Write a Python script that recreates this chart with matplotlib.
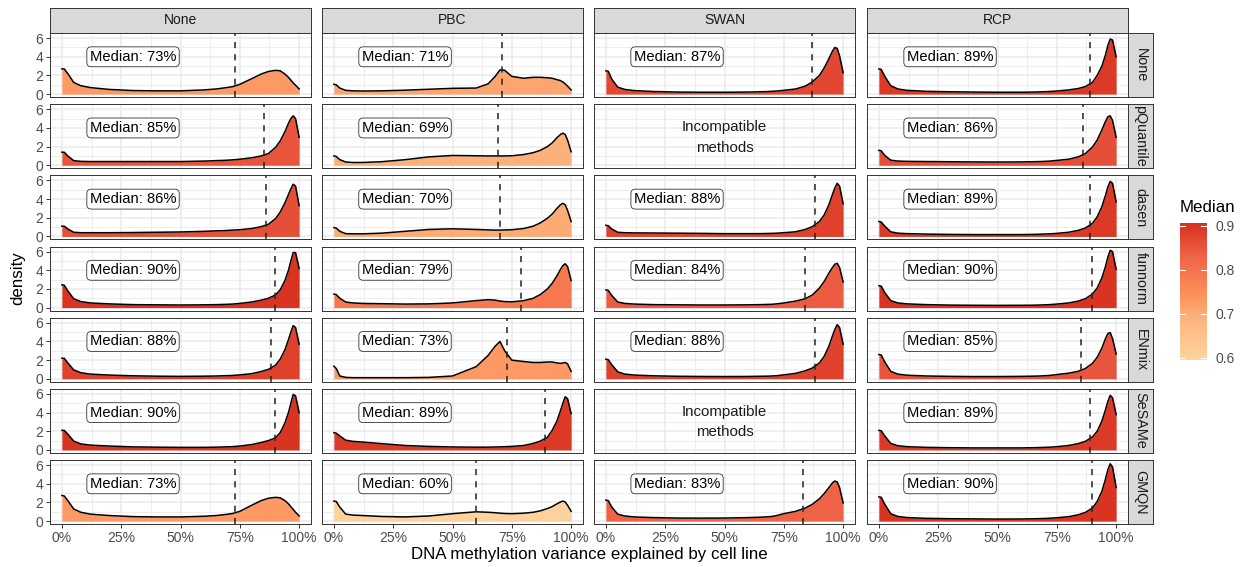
import numpy as np
import matplotlib.pyplot as plt
from matplotlib.colors import LinearSegmentedColormap, Normalize
from matplotlib.cm import ScalarMappable

plt.rcParams['font.family'] = ['Liberation Sans', 'DejaVu Sans']

methods = ['None', 'PBC', 'SWAN', 'RCP']
norm_methods = ['None', 'pQuantile', 'dasen', 'funnorm', 'ENmix', 'SeSAMe', 'GMQN']

x_grid = [0, 0.01, 0.025, 0.05, 0.08, 0.12, 0.2, 0.3, 0.4, 0.5, 0.6, 0.65, 0.68, 0.7,
          0.72, 0.75, 0.8, 0.84, 0.87, 0.9, 0.92, 0.94, 0.955, 0.965, 0.975, 0.985, 1.0]

dens_none = [
    [2.7, 2.7, 2.2, 1.25, 0.9, 0.7, 0.5, 0.38, 0.35, 0.35, 0.45, 0.55, 0.65, 0.72, 0.8, 1.05, 1.65, 2.15, 2.42, 2.55, 2.5, 2.15, 1.8, 1.5, 1.2, 0.95, 0.55],
    [1.4, 1.4, 1.0, 0.5, 0.42, 0.4, 0.4, 0.4, 0.4, 0.4, 0.45, 0.5, 0.52, 0.55, 0.58, 0.65, 0.8, 1.0, 1.25, 1.9, 2.6, 3.6, 4.5, 5.0, 5.3, 5.0, 3.0],
    [1.1, 1.1, 0.8, 0.45, 0.4, 0.4, 0.4, 0.42, 0.45, 0.48, 0.55, 0.6, 0.62, 0.65, 0.68, 0.72, 0.85, 1.05, 1.3, 1.9, 2.6, 3.6, 4.5, 5.1, 5.6, 5.4, 3.3],
    [2.45, 2.4, 1.8, 0.95, 0.65, 0.5, 0.4, 0.32, 0.3, 0.28, 0.3, 0.32, 0.34, 0.36, 0.38, 0.45, 0.6, 0.8, 1.0, 1.35, 1.9, 2.9, 4.0, 5.0, 5.9, 5.9, 4.2],
    [2.2, 2.2, 1.7, 0.95, 0.65, 0.5, 0.4, 0.32, 0.28, 0.26, 0.28, 0.3, 0.32, 0.34, 0.36, 0.42, 0.55, 0.78, 1.0, 1.45, 2.1, 3.1, 4.2, 5.0, 5.7, 5.5, 3.7],
    [2.1, 2.1, 1.7, 0.95, 0.65, 0.52, 0.42, 0.33, 0.3, 0.28, 0.28, 0.3, 0.32, 0.34, 0.36, 0.42, 0.58, 0.8, 1.0, 1.3, 1.85, 2.9, 4.0, 5.0, 5.95, 5.8, 4.0],
    [2.75, 2.7, 2.2, 1.3, 0.95, 0.75, 0.6, 0.48, 0.45, 0.45, 0.52, 0.6, 0.68, 0.75, 0.82, 1.05, 1.7, 2.2, 2.45, 2.55, 2.5, 2.2, 1.85, 1.55, 1.25, 0.95, 0.55],
]
dens_pbc = [
    [1.05, 1.0, 0.65, 0.4, 0.35, 0.33, 0.35, 0.42, 0.52, 0.62, 0.65, 1.1, 1.9, 2.6, 2.55, 1.9, 1.7, 1.8, 1.8, 1.75, 1.7, 1.55, 1.45, 1.3, 1.1, 0.85, 0.45],
    [1.0, 0.95, 0.6, 0.35, 0.3, 0.3, 0.38, 0.6, 0.9, 1.05, 1.02, 1.0, 1.0, 1.0, 1.0, 1.02, 1.15, 1.35, 1.6, 2.0, 2.4, 2.95, 3.3, 3.45, 3.3, 2.7, 1.45],
    [0.95, 0.9, 0.55, 0.3, 0.28, 0.28, 0.35, 0.55, 0.75, 0.82, 0.75, 0.7, 0.68, 0.68, 0.7, 0.72, 0.85, 1.1, 1.45, 1.95, 2.4, 3.0, 3.4, 3.55, 3.4, 2.8, 1.6],
    [1.45, 1.4, 1.0, 0.6, 0.5, 0.45, 0.42, 0.38, 0.4, 0.5, 0.75, 0.85, 0.8, 0.7, 0.65, 0.62, 0.75, 1.0, 1.4, 2.0, 2.6, 3.4, 4.1, 4.5, 4.7, 4.4, 2.9],
    [1.35, 1.1, 0.3, 0.15, 0.12, 0.12, 0.12, 0.12, 0.15, 0.3, 1.3, 2.5, 3.5, 4.0, 3.0, 2.0, 1.85, 1.75, 1.75, 1.8, 1.8, 1.7, 1.65, 1.7, 1.75, 1.6, 0.8],
    [1.85, 1.8, 1.5, 1.05, 0.92, 0.85, 0.68, 0.48, 0.38, 0.32, 0.3, 0.3, 0.32, 0.33, 0.35, 0.38, 0.48, 0.7, 0.95, 1.35, 2.1, 3.1, 4.2, 5.0, 5.7, 5.5, 3.9],
    [2.15, 2.1, 1.5, 0.75, 0.65, 0.6, 0.5, 0.45, 0.55, 0.8, 1.0, 0.95, 0.9, 0.85, 0.82, 0.8, 0.85, 0.95, 1.1, 1.35, 1.55, 1.85, 2.05, 2.15, 2.05, 1.7, 1.05],
]
dens_swan = [
    [2.5, 2.45, 1.6, 0.75, 0.5, 0.38, 0.28, 0.22, 0.2, 0.2, 0.22, 0.25, 0.27, 0.3, 0.33, 0.4, 0.55, 0.85, 1.3, 2.0, 2.8, 3.8, 4.6, 5.0, 4.9, 4.1, 2.3],
    None,
    [1.2, 1.15, 0.8, 0.45, 0.4, 0.38, 0.37, 0.35, 0.33, 0.3, 0.3, 0.3, 0.32, 0.33, 0.35, 0.4, 0.5, 0.75, 1.05, 1.6, 2.3, 3.4, 4.5, 5.2, 5.7, 5.4, 3.5],
    [1.9, 1.85, 1.3, 0.6, 0.45, 0.38, 0.32, 0.3, 0.28, 0.28, 0.3, 0.32, 0.34, 0.36, 0.4, 0.5, 0.7, 0.95, 1.35, 2.1, 2.8, 3.7, 4.3, 4.65, 4.75, 4.3, 2.75],
    [2.1, 2.05, 1.5, 0.75, 0.5, 0.4, 0.32, 0.27, 0.25, 0.24, 0.25, 0.27, 0.28, 0.3, 0.33, 0.42, 0.58, 0.85, 1.15, 1.7, 2.4, 3.5, 4.6, 5.3, 5.8, 5.5, 3.7],
    None,
    [2.25, 2.2, 1.5, 0.75, 0.55, 0.45, 0.38, 0.33, 0.32, 0.33, 0.38, 0.42, 0.46, 0.5, 0.6, 0.8, 1.05, 1.4, 1.8, 2.4, 2.95, 3.6, 4.1, 4.3, 4.2, 3.6, 1.95],
]
dens_rcp = [
    [2.7, 2.65, 1.9, 0.9, 0.55, 0.4, 0.3, 0.25, 0.22, 0.2, 0.2, 0.22, 0.24, 0.26, 0.28, 0.33, 0.45, 0.6, 0.8, 1.25, 2.0, 3.0, 4.2, 5.2, 5.9, 5.8, 4.0],
    [1.6, 1.55, 1.05, 0.55, 0.45, 0.42, 0.4, 0.38, 0.36, 0.35, 0.36, 0.38, 0.4, 0.42, 0.45, 0.52, 0.65, 0.9, 1.25, 1.95, 2.7, 3.8, 4.7, 5.2, 5.3, 4.8, 3.0],
    [1.6, 1.55, 1.1, 0.5, 0.35, 0.3, 0.25, 0.22, 0.2, 0.2, 0.2, 0.22, 0.24, 0.26, 0.28, 0.33, 0.45, 0.65, 0.9, 1.4, 2.1, 3.2, 4.4, 5.3, 5.9, 5.7, 3.7],
    [2.35, 2.3, 1.6, 0.75, 0.5, 0.4, 0.32, 0.27, 0.25, 0.24, 0.25, 0.26, 0.28, 0.3, 0.32, 0.38, 0.5, 0.7, 0.95, 1.45, 2.1, 3.2, 4.4, 5.4, 6.15, 6.0, 4.1],
    [2.6, 2.55, 1.8, 0.8, 0.5, 0.38, 0.3, 0.26, 0.24, 0.24, 0.26, 0.28, 0.3, 0.33, 0.36, 0.45, 0.6, 0.8, 1.1, 1.65, 2.3, 3.3, 4.3, 4.85, 4.95, 4.3, 2.65],
    [2.1, 2.05, 1.5, 0.7, 0.45, 0.35, 0.28, 0.24, 0.22, 0.22, 0.22, 0.24, 0.26, 0.28, 0.3, 0.35, 0.48, 0.68, 0.92, 1.4, 2.0, 3.1, 4.3, 5.2, 5.85, 5.6, 3.8],
    [2.6, 2.55, 1.8, 0.8, 0.5, 0.38, 0.3, 0.26, 0.24, 0.22, 0.23, 0.25, 0.27, 0.29, 0.31, 0.36, 0.48, 0.68, 0.93, 1.4, 2.1, 3.2, 4.5, 5.5, 6.15, 5.8, 3.6],
]

med_none = [0.73, 0.85, 0.86, 0.90, 0.88, 0.90, 0.73]
med_pbc = [0.71, 0.69, 0.70, 0.79, 0.73, 0.89, 0.60]
med_swan = [0.87, None, 0.88, 0.84, 0.88, None, 0.83]
med_rcp = [0.89, 0.86, 0.89, 0.90, 0.85, 0.89, 0.90]

all_dens = [dens_none, dens_pbc, dens_swan, dens_rcp]
all_med = [med_none, med_pbc, med_swan, med_rcp]

cmap = LinearSegmentedColormap.from_list(
    'orrd', ['#fdd49e', '#fdbb84', '#fc8d59', '#ef6548', '#d7301f'])
cnorm = Normalize(0.595, 0.905)

W, H = 1241, 567
fig = plt.figure(figsize=(W / 100, H / 100), dpi=100)


def box(left, top, w, h):
    return [left / W, 1 - (top + h) / H, w / W, h / H]


col_left = [50, 322, 594, 867]
pw = 261
ph = 64
row_top = [33 + i * 71.17 for i in range(7)]
grey20 = '#333333'
tick_col = '#4D4D4D'

for c, method in enumerate(methods):
    # top strip
    sax = fig.add_axes(box(col_left[c], 8, pw, 25))
    sax.set_facecolor('#D9D9D9')
    sax.set_xticks([])
    sax.set_yticks([])
    for s in sax.spines.values():
        s.set_color(grey20)
        s.set_linewidth(0.7)
    sax.text(0.5, 0.5, method, ha='center', va='center', fontsize=10,
             color='#1A1A1A', transform=sax.transAxes)

    for r, nm in enumerate(norm_methods):
        ax = fig.add_axes(box(col_left[c], row_top[r], pw, ph))
        ax.set_xlim(-0.05, 1.05)
        ax.set_ylim(-0.31, 6.55)
        ax.set_xticks([0, 0.25, 0.5, 0.75, 1.0])
        ax.set_xticks([0.125, 0.375, 0.625, 0.875], minor=True)
        ax.set_yticks([0, 2, 4, 6])
        ax.set_yticks([1, 3, 5], minor=True)
        ax.grid(which='major', color='#EBEBEB', lw=1.1, zorder=0)
        ax.grid(which='minor', color='#EBEBEB', lw=0.6, zorder=0)
        ax.set_axisbelow(True)
        for s in ax.spines.values():
            s.set_color(grey20)
            s.set_linewidth(0.7)
        ax.tick_params(which='minor', length=0)
        ax.tick_params(which='major', length=3, width=0.7, color=grey20,
                       labelsize=10, labelcolor=tick_col, pad=2)
        if c == 0:
            ax.set_yticklabels(['0', '2', '4', '6'])
        else:
            ax.tick_params(axis='y', length=0, labelleft=False)
        if r == 6:
            ax.set_xticklabels(['0%', '25%', '50%', '75%', '100%'])
        else:
            ax.tick_params(axis='x', length=0, labelbottom=False)

        dens = all_dens[c][r]
        med = all_med[c][r]
        if dens is None:
            ax.text(0.5, 3.0, 'Incompatible\nmethods', ha='center', va='center',
                    fontsize=10.8, linespacing=1.6, color='#1A1A1A')
        else:
            ax.fill_between(x_grid, 0, dens, color=cmap(cnorm(med)), lw=0, zorder=2)
            ax.plot(x_grid, dens, color='black', lw=1.1, zorder=3)
            ax.axvline(med, color='#222222', lw=1.1, ls=(0, (4, 4)), zorder=4)
            ax.text(0.3, 4.0, f'Median: {round(med * 100)}%', ha='center', va='center',
                    fontsize=10.6, color='black', zorder=5,
                    bbox=dict(boxstyle='round,pad=0.2,rounding_size=0.3', fc='white',
                              ec=grey20, lw=0.6))

        if c == 3:
            rax = fig.add_axes(box(1128, row_top[r], 25, ph))
            rax.set_facecolor('#D9D9D9')
            rax.set_xticks([])
            rax.set_yticks([])
            for s in rax.spines.values():
                s.set_color(grey20)
                s.set_linewidth(0.7)
            rax.text(0.5, 0.5, nm, ha='center', va='center', rotation=-90,
                     fontsize=10.4, color='#1A1A1A', transform=rax.transAxes,
                     clip_on=True)

# axis titles
fig.text(18 / W, 1 - 278.5 / H, 'density', rotation=90, ha='center', va='center',
         fontsize=12.2)
fig.text(589 / W, 1 - 555 / H, 'DNA methylation variance explained by cell line',
         ha='center', va='center', fontsize=12.2)

# colour bar legend
cax = fig.add_axes(box(1180, 223.3, 26.7, 136.7))
cb = fig.colorbar(ScalarMappable(norm=cnorm, cmap=cmap), cax=cax)
cb.outline.set_visible(False)
cb.set_ticks([0.6, 0.7, 0.8, 0.9])
cb.set_ticklabels(['0.6', '0.7', '0.8', '0.9'])
cax.tick_params(length=0, labelsize=10, labelcolor=tick_col, pad=6)
for t in [0.6, 0.7, 0.8, 0.9]:
    cax.plot([0, 0.2], [t, t], color='white', lw=0.8, transform=cax.get_yaxis_transform())
    cax.plot([0.8, 1.0], [t, t], color='white', lw=0.8, transform=cax.get_yaxis_transform())
fig.text(1180 / W, 1 - 208 / H, 'Median', ha='left', va='center', fontsize=12.2)

fig.savefig('out.png', dpi=100)
